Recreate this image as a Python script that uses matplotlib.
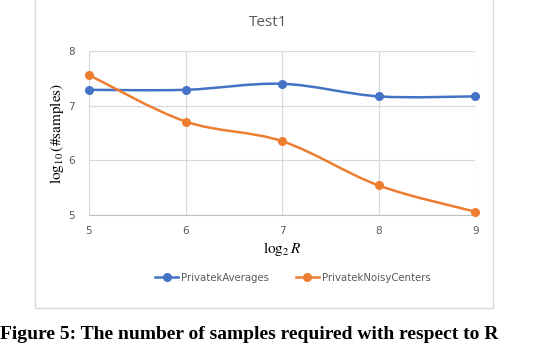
import matplotlib
matplotlib.use("Agg")
import matplotlib.pyplot as plt
from matplotlib.path import Path
from matplotlib.patches import PathPatch, Rectangle
from matplotlib.lines import Line2D
import numpy as np

plt.rcParams['mathtext.fontset'] = 'stix'

x_vals = [5, 6, 7, 8, 9]
averages = [7.29, 7.29, 7.40, 7.17, 7.17]
noisy_centers = [7.56, 6.71, 6.35, 5.54, 5.06]
series_names = ["PrivatekAverages", "PrivatekNoisyCenters"]
colors = ["#4472C4", "#ED7D31"]
title = "Test1"

W, H = 536, 344
fig = plt.figure(figsize=(W / 100, H / 100), dpi=100)

# chart border
fig.patches.append(Rectangle((35 / W, 1 - 308 / H), (493 - 35) / W, 308 / H + 0.05,
                             transform=fig.transFigure, fill=False,
                             edgecolor="#d9d9d9", lw=1.0, clip_on=False))

ax = fig.add_axes([89 / W, 1 - 215 / H, (475.3 - 89) / W, (215 - 51) / H])
ax.set_xlim(5, 9)
ax.set_ylim(5, 8)
ax.set_xticks(x_vals)
ax.set_yticks([5, 6, 7, 8])
ax.grid(True, color="#d9d9d9", lw=0.9)
ax.set_axisbelow(True)
for s in ["top", "right", "left"]:
    ax.spines[s].set_visible(False)
ax.spines["bottom"].set_color("#bfbfbf")
ax.tick_params(length=0, colors="#595959", labelsize=7.5)
ax.tick_params(axis="x", pad=8)
ax.tick_params(axis="y", pad=10)


def smooth_path(xs, ys):
    xs = np.asarray(xs, float)
    ys = np.asarray(ys, float)
    pts = np.column_stack([xs, ys])
    verts = [pts[0]]
    codes = [Path.MOVETO]
    n = len(pts)
    for i in range(n - 1):
        p0 = pts[i - 1] if i > 0 else pts[i]
        p1 = pts[i]
        p2 = pts[i + 1]
        p3 = pts[i + 2] if i + 2 < n else pts[i + 1]
        c1 = p1 + (p2 - p0) / 6.0
        c2 = p2 - (p3 - p1) / 6.0
        verts += [c1, c2, p2]
        codes += [Path.CURVE4] * 3
    return Path(verts, codes)


for ys, c in zip([averages, noisy_centers], colors):
    ax.add_patch(PathPatch(smooth_path(x_vals, ys), fill=False, edgecolor=c,
                           lw=1.8, clip_on=False, zorder=3))
    ax.plot(x_vals, ys, ls="none", marker="o", ms=5.5, color=c, clip_on=False, zorder=4)

fig.text(268 / W, 1 - 23 / H, title, ha="center", va="center", fontsize=11,
         color="#595959", family="Open Sans")
ax.set_ylabel(r"$\log_{10}(\#\mathrm{samples})$", fontsize=11, labelpad=2)
ax.set_xlabel(r"$\log_2 R$", fontsize=11, labelpad=3)

handles = [Line2D([0], [0], color=c, lw=1.8, marker="o", ms=5.5) for c in colors]
fig.legend(handles, series_names, loc="center", bbox_to_anchor=(293 / W, 1 - 278 / H),
           ncol=2, frameon=False, fontsize=7.3, labelcolor="#595959",
           handlelength=2.3, handletextpad=0.3, columnspacing=2.6)

fig.text(0.0, 1 - 339 / H, "Figure 5: The number of samples required with respect to R",
         ha="left", va="baseline", fontsize=14, weight="bold", family="Liberation Serif")

fig.savefig("out.png", dpi=100)
